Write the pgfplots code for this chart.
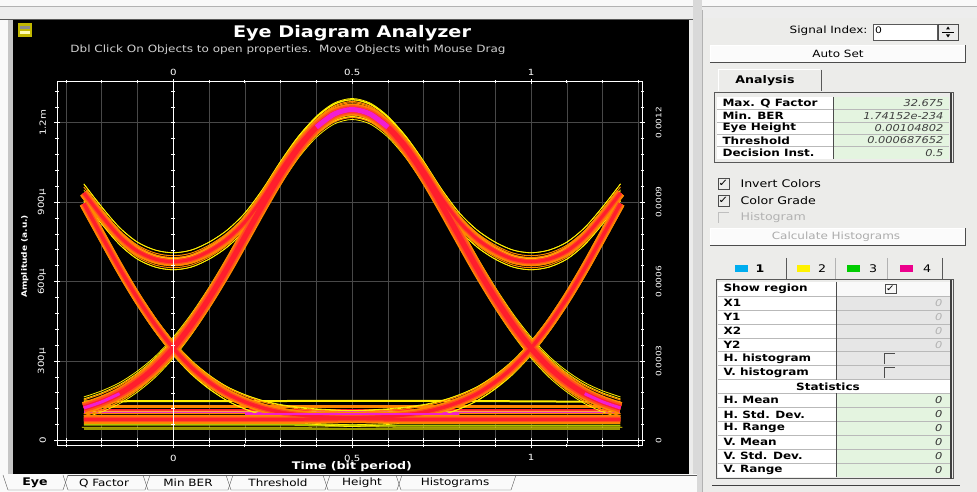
\documentclass[border=0pt]{standalone}
\usepackage{pgfplots}
\pgfplotsset{compat=1.18}
\usepackage{pgfplotstable}
\usepackage{fontspec}
\setmainfont{DejaVu Sans}[FakeStretch=1.2]
\definecolor{uigray}{RGB}{236,236,234}
\definecolor{gridc}{RGB}{72,72,72}
\definecolor{eyY}{RGB}{255,240,0}
\definecolor{eyO}{RGB}{255,135,0}
\definecolor{eyOR}{RGB}{255,80,30}
\definecolor{eyR}{RGB}{255,30,45}
\definecolor{eyM}{RGB}{240,30,210}
\definecolor{eyOl}{RGB}{150,150,0}
\definecolor{eyG}{RGB}{175,195,0}
\definecolor{cellgreen}{RGB}{228,244,224}
\definecolor{celldis}{RGB}{230,230,230}
\newcommand{\fs}[1]{\fontsize{#1}{#1}\selectfont}

\pgfplotstableread{
x H U111 U110 U011 F R FR
-0.25 123 935 935 123 895 80 895
-0.20 146 848 848 146 772 80 772
-0.15 177 770 770 177 650 80 650
-0.10 221 715 715 221 537 80 537
-0.05 277 685 685 278 436 80 436
0.00 349 675 675 350 349 80 349
0.05 436 685 685 437 277 80 277
0.10 537 715 715 538 221 80 221
0.15 649 760 760 650 177 80 177
0.20 769 825 825 770 146 80 146
0.25 890 915 915 891 123 80 123
0.30 1005 1020 1020 1006 107 80 107
0.35 1105 1115 1115 1107 97 80 97
0.40 1183 1188 1188 1185 90 81 91
0.45 1233 1237 1237 1235 86 82 88
0.50 1250 1253 1253 1253 83 83 86
0.55 1233 1237 1235 1237 82 86 88
0.60 1183 1188 1185 1188 81 90 91
0.65 1105 1115 1107 1115 80 97 97
0.70 1005 1020 1006 1020 80 107 107
0.75 890 915 891 915 80 123 123
0.80 769 825 770 825 80 146 146
0.85 649 760 650 760 80 177 177
0.90 537 715 538 715 80 221 221
0.95 436 685 437 685 80 277 277
1.00 349 675 350 675 80 349 349
1.05 277 685 278 685 80 436 436
1.10 221 715 221 715 80 537 537
1.15 177 770 177 770 80 650 650
1.20 146 848 146 848 80 772 772
1.25 123 935 123 935 80 895 895
}\eyedata

\pgfplotsset{
  yl/.style={eyY, line width=0.8pt, smooth, line join=round},
  ot/.style={eyO, line width=1pt, smooth, line join=round},
  ob/.style={eyO, line width=9pt, smooth, line join=round},
  orb/.style={eyOR, line width=5.5pt, smooth, line join=round},
  rc/.style={eyR, line width=3pt, smooth, line join=round},
}

\begin{document}
\begin{tikzpicture}[x=1pt,y=1pt]
\useasboundingbox (0,0) rectangle (977,492);
\fill[uigray] (0,0) rectangle (977,492);
\begin{scope}[shift={(0,492)},yscale=-1]
  % window frame strips
  \fill[white!95!gray] (0,0) rectangle (977,6);
  \draw[gray!60] (0,6.5) -- (977,6.5);
  \fill[gray!14] (0,7) rectangle (977,18.5);
  \draw[gray!70!black, line width=1.5pt] (0,19.5) -- (697,19.5);
  \fill[white!95!gray] (0,20) rectangle (8,474);
  \fill[gray!45] (8,20) rectangle (12.5,474);
  % black panel
  \fill[black] (12.5,20.5) rectangle (689,474);
  \draw[white!85!gray, line width=2pt] (691,20) -- (691,478);
  \fill[gray!30] (693,0) rectangle (702,492);
  \draw[gray!60] (702,10) -- (702,492);
  % icon
  \fill[yellow!45!olive] (18,23) rectangle (32,37);
  \fill[black!45] (20,26) rectangle (30,29);
  \fill[white!70!yellow] (20,31) rectangle (30,34);
  % title
  \node[white, font=\fs{16}\bfseries] at (352,33) {Eye Diagram Analyzer};
  \node[white!82!black, font=\fs{10}] at (288,50) {Dbl Click On Objects to open properties.\ \ Move Objects with Mouse Drag};
  % bottom tabs
  \fill[white!96!gray] (0,474) rectangle (697,492);
  \draw[gray!70!black] (3,475) -- (8,490) -- (63,490) -- (68,475);
  \foreach \l/\r in {63/150,143/233,226/330,323/402,396/516}{
    \draw[gray!70!black] (\l,475) -- (\l+5,490) -- (\r-5,490) -- (\r,475);}
  \draw[gray!70!black] (68,475) -- (697,475);
  \node[font=\fs{10.5}\bfseries] at (35,483) {Eye};
  \node[font=\fs{10}] at (104,483) {Q Factor};
  \node[font=\fs{10}] at (188,483) {Min BER};
  \node[font=\fs{10}] at (278,483) {Threshold};
  \node[font=\fs{10}] at (362,483) {Height};
  \node[font=\fs{10}] at (455,483) {Histograms};
  % ---------------- right panel ----------------
  \node[anchor=east, font=\fs{10}] at (871,31) {Signal Index:};
  \fill[white] (873,24) rectangle (937,40);
  \draw[gray!70!black] (873,24) rectangle (937,40);
  \node[anchor=west, font=\fs{9}, inner sep=0pt] at (875,30) {0};
  \fill[gray!15] (938,24) rectangle (958,40);
  \draw[gray!60!black] (938,24) rectangle (958,40);
  \draw[black] (942,32) -- (954,32);
  \fill[black] (948,26.5) -- (946,29.5) -- (950,29.5) -- cycle;
  \fill[black] (948,37.5) -- (946,34.5) -- (950,34.5) -- cycle;
  % Auto Set button
  \fill[white!97!gray] (710,45) rectangle (965,63);
  \draw[white] (710,63) -- (710,45) -- (965,45);
  \draw[gray!60!black, line width=1pt] (710,63) -- (965,63) -- (965,45);
  \node[font=\fs{10}] at (838,54) {Auto Set};
  % Analysis tab
  \draw[white, line width=1pt] (718,91) -- (718,70) -- (820,70);
  \draw[gray!70!black, line width=1pt] (821,70) -- (821,91);
  \node[font=\fs{10.5}\bfseries] at (765,81) {Analysis};
  % table 1
  \fill[white] (717,97) rectangle (833,159);
  \fill[cellgreen] (833,97) rectangle (949,159);
  \foreach \r in {109.4,121.8,134.2,146.6} \draw[gray!55] (717,\r) -- (949,\r);
  \draw[gray!60!black] (833,97) -- (833,159);
  \draw[gray!70!black, line width=1pt] (714,93) rectangle (953,163);
  \draw[gray!50!black, line width=2.5pt] (951,93) -- (951,163);
  \foreach \y/\t in {103.2/Max. Q Factor,115.6/Min. BER,128.0/Eye Height,140.4/Threshold,152.8/Decision Inst.}
    \node[anchor=west, font=\fs{10}\bfseries] at (719,\y) {\t};
  \foreach \y/\t in {103.2/32.675,115.6/1.74152e-234,128.0/0.00104802,140.4/0.000687652,152.8/0.5}
    \node[anchor=east, font=\fs{9.5}\itshape, black!75] at (947,\y) {\t};
  % checkboxes
  \draw[gray!60!black] (718,178) rectangle (729,189);
  \node[font=\fs{10}] at (723.5,183.5) {✓};
  \node[anchor=west, font=\fs{10.5}] at (737,183.5) {Invert Colors};
  \draw[gray!60!black] (718,195) rectangle (729,206);
  \node[font=\fs{10}] at (723.5,200.5) {✓};
  \node[anchor=west, font=\fs{10.5}] at (737,200.5) {Color Grade};
  \draw[gray!50] (718,223) -- (718,212) -- (729,212);
  \node[anchor=west, font=\fs{10.5}, gray!60] at (737,217.5) {Histogram};
  % Calculate Histograms button
  \fill[white!97!gray] (710,228) rectangle (965,246);
  \draw[white] (710,246) -- (710,228) -- (965,228);
  \draw[gray!60!black, line width=1pt] (710,246) -- (965,246) -- (965,228);
  \node[font=\fs{10}, gray!65] at (836,237) {Calculate Histograms};
  % colour tabs
  \fill[cyan] (735,265) rectangle (748,272);
  \node[font=\fs{10.5}\bfseries] at (760,268.5) {1};
  \draw[gray!70!black, line width=1pt] (786,258) -- (786,280);
  \fill[yellow] (797,265) rectangle (810,272);
  \node[font=\fs{10.5}] at (822,268.5) {2};
  \draw[gray!60] (835,258) -- (835,280);
  \fill[green!80!black] (847,265) rectangle (860,272);
  \node[font=\fs{10.5}] at (873,268.5) {3};
  \draw[gray!60] (887,258) -- (887,280);
  \fill[magenta] (900,265) rectangle (913,272);
  \node[font=\fs{10.5}] at (927,268.5) {4};
  \draw[gray!70!black, line width=1pt] (942,258) -- (942,280);
  % table 2
  \fill[white] (718,282) rectangle (950,477);
  \fill[white!95!gray] (836,282) rectangle (950,295.93);
  \fill[celldis] (836,295.93) rectangle (950,379.51);
  \fill[cellgreen] (836,393.44) rectangle (950,477);
  \foreach \r in {295.93,309.86,323.79,337.72,351.65,365.58,379.51,393.44,407.37,421.3,435.23,449.16,463.09}
    \draw[gray!55] (718,\r) -- (950,\r);
  \draw[gray!60!black] (836,282) -- (836,379.51) (836,393.44) -- (836,477);
  \draw[gray!70!black, line width=1pt] (716,280) rectangle (953,479);
  \draw[gray!50!black, line width=2pt] (951,280) -- (951,479);
  \draw[gray!50!black, line width=1pt] (712,486) -- (960,486);
  \foreach \y/\t in {289/Show region,302.9/X1,316.8/Y1,330.8/X2,344.7/Y2,358.6/H. histogram,372.5/V. histogram,400.4/H. Mean,414.3/H. Std. Dev.,428.3/H. Range,442.2/V. Mean,456.1/V. Std. Dev.,470.1/V. Range}
    \node[anchor=west, font=\fs{10}\bfseries] at (720,\y) {\t};
  \node[font=\fs{10}\bfseries] at (828,386.5) {Statistics};
  \foreach \y in {302.9,316.8,330.8,344.7}
    \node[anchor=east, font=\fs{9.5}\itshape, gray!60] at (946,\y) {0};
  \foreach \y in {400.4,414.3,428.3,442.2,456.1,470.1}
    \node[anchor=east, font=\fs{9.5}\itshape, black!80] at (946,\y) {0};
  \draw[gray!60!black] (885,284.5) rectangle (896,293.5);
  \node[font=\fs{9}] at (890.5,289) {✓};
  \draw[gray!60!black] (884,364) -- (884,353) -- (895,353);
  \draw[gray!60!black] (884,378) -- (884,367) -- (895,367);
\end{scope}

% ---------------- main plot ----------------
\begin{axis}[
  at={(57pt,46.3pt)}, anchor=south west,
  scale only axis, width=585.3pt, height=364pt,
  xmin=-0.325, xmax=1.311, ymin=-19.6, ymax=1355,
  axis line style={white, line width=0.9pt},
  xtick={0,0.5,1}, xticklabels={0,0.5,1},
  minor xtick={-0.3,-0.2,-0.1,0.1,0.2,0.3,0.4,0.6,0.7,0.8,0.9,1.1,1.2,1.3},
  ytick={0,300,600,900,1200}, yticklabels={0,300µ,600µ,900µ,1.2m},
  minor ytick={60,120,180,240,360,420,480,540,660,720,780,840,960,1020,1080,1140,1260,1320},
  xmajorgrids, xminorgrids, ymajorgrids, yminorgrids=false,
  major grid style={gridc, line width=0.6pt},
  minor grid style={gridc, line width=0.6pt},
  tick style={white, line width=0.7pt},
  major tick length=5pt, minor tick length=3pt, tick align=center,
  ticklabel style={white, font=\fs{8.5}},
  yticklabel style={rotate=90, anchor=south},
  yticklabel shift=5pt, xticklabel shift=3pt,
  xlabel={Time (bit period)},
  xlabel style={white, font=\fs{10.5}\bfseries, at={(axis description cs:0.504,-0.058)}, anchor=center},
  ylabel={Amplitude (a.u.)},
  ylabel style={white, font=\fs{7.5}\bfseries, at={(axis description cs:-0.055,0.52)}, anchor=center},
]
% baseline (000 patterns)
\addplot[eyOl, line width=2.5pt] coordinates {(-0.25,44) (1.25,44)};
\addplot[eyG, line width=2pt] coordinates {(-0.25,60) (0.3,60) (0.62,56) (1.25,56)};
\addplot[eyY, line width=2pt] coordinates {(-0.25,72) (1.25,72)};
\addplot[eyO, line width=3pt] coordinates {(-0.25,128) (1.25,128)};
\addplot[eyY, line width=2pt] coordinates {(-0.25,148) (0.7,150) (1.25,146)};
\addplot[eyM, line width=3pt] coordinates {(-0.25,104) (1.25,104)};
\addplot[eyR, line width=2pt] coordinates {(-0.25,115) (1.25,115)};
% yellow outer traces
\addplot[yl, yshift=9pt] table[x=x,y=U111]{\eyedata};
\addplot[yl, yshift=-8pt] table[x=x,y=U111]{\eyedata};
\addplot[yl, yshift=9pt] table[x=x,y=U110]{\eyedata};
\addplot[yl, yshift=-8pt] table[x=x,y=U110]{\eyedata};
\addplot[yl, yshift=9pt] table[x=x,y=U011]{\eyedata};
\addplot[yl, yshift=-8pt] table[x=x,y=U011]{\eyedata};
\addplot[yl, yshift=11pt] table[x=x,y=H]{\eyedata};
\addplot[yl, yshift=-10pt] table[x=x,y=H]{\eyedata};
\addplot[yl, yshift=8pt, xshift=-2pt] table[x=x,y=F]{\eyedata};
\addplot[yl, yshift=-8pt, xshift=2pt] table[x=x,y=F]{\eyedata};
\addplot[yl, yshift=8pt, xshift=2pt] table[x=x,y=R]{\eyedata};
\addplot[yl, yshift=-8pt, xshift=-2pt] table[x=x,y=R]{\eyedata};
\addplot[yl, yshift=7pt] table[x=x,y=FR]{\eyedata};
\addplot[yl, yshift=-7pt] table[x=x,y=FR]{\eyedata};
% orange thin traces
\addplot[ot, yshift=6pt] table[x=x,y=U111]{\eyedata};
\addplot[ot, yshift=-6pt] table[x=x,y=U110]{\eyedata};
\addplot[ot, yshift=-6pt] table[x=x,y=U011]{\eyedata};
\addplot[ot, yshift=8pt] table[x=x,y=H]{\eyedata};
\addplot[ot, yshift=-8pt] table[x=x,y=H]{\eyedata};
\addplot[ot, yshift=6pt] table[x=x,y=F]{\eyedata};
\addplot[ot, yshift=6pt] table[x=x,y=R]{\eyedata};
% orange bands
\addplot[ob] table[x=x,y=U111]{\eyedata};
\addplot[ob] table[x=x,y=U110]{\eyedata};
\addplot[ob] table[x=x,y=U011]{\eyedata};
\addplot[ob, line width=12pt] table[x=x,y=H]{\eyedata};
\addplot[ob] table[x=x,y=F]{\eyedata};
\addplot[ob] table[x=x,y=R]{\eyedata};
\addplot[ob] table[x=x,y=FR]{\eyedata};
% thin yellow inner traces
\addplot[yl, line width=0.6pt, yshift=3pt] table[x=x,y=U111]{\eyedata};
\addplot[yl, line width=0.6pt, yshift=-2pt] table[x=x,y=U110]{\eyedata};
\addplot[yl, line width=0.6pt, yshift=2pt] table[x=x,y=U011]{\eyedata};
% orange-red cores
\addplot[orb, line width=3pt] table[x=x,y=U111]{\eyedata};
\addplot[orb] table[x=x,y=U110]{\eyedata};
\addplot[orb] table[x=x,y=U011]{\eyedata};
\addplot[orb, line width=9pt] table[x=x,y=H]{\eyedata};
\addplot[orb] table[x=x,y=F]{\eyedata};
\addplot[orb] table[x=x,y=R]{\eyedata};
\addplot[orb] table[x=x,y=FR]{\eyedata};
% red cores
\addplot[rc] table[x=x,y=U110]{\eyedata};
\addplot[rc] table[x=x,y=U011]{\eyedata};
\addplot[rc, line width=5.5pt] table[x=x,y=H]{\eyedata};
\addplot[rc] table[x=x,y=F]{\eyedata};
\addplot[rc] table[x=x,y=R]{\eyedata};
\addplot[rc] table[x=x,y=FR]{\eyedata};
% magenta highlights
\addplot[eyM, line width=5pt, smooth, restrict x to domain=0.38:0.62] table[x=x,y=H]{\eyedata};
\addplot[eyM, line width=3pt, smooth, restrict x to domain=-0.26:-0.14] table[x=x,y=H]{\eyedata};
\addplot[eyM, line width=3pt, smooth, restrict x to domain=1.14:1.26] table[x=x,y=H]{\eyedata};
\addplot[eyM, line width=2pt] coordinates {(0.2,100) (0.8,100)};
% axis lines through zero
\draw[white, line width=1pt] (axis cs:0,-19.6) -- (axis cs:0,1355);
\draw[white, line width=1pt] (axis cs:-0.325,0) -- (axis cs:1.311,0);
\pgfplotsinvokeforeach{60,120,...,1320}{\draw[white, line width=0.6pt] (axis cs:-0.006,#1) -- (axis cs:0.006,#1);}
\pgfplotsinvokeforeach{-0.3,-0.2,-0.1,0.1,0.2,0.3,0.4,0.5,0.6,0.7,0.8,0.9,1,1.1,1.2,1.3}{\draw[white, line width=0.6pt] (axis cs:#1,-11) -- (axis cs:#1,11);}
\end{axis}

% top and right labels
\begin{axis}[
  at={(57pt,46.3pt)}, anchor=south west,
  scale only axis, width=585.3pt, height=364pt,
  xmin=-0.325, xmax=1.311, ymin=-19.6, ymax=1355,
  axis line style={draw=none}, tick style={draw=none},
  xtick={0,0.5,1}, xticklabels={0,0.5,1}, xticklabel pos=upper,
  ytick={0,300,600,900,1200}, yticklabels={0,0.0003,0.0006,0.0009,0.0012}, yticklabel pos=right,
  ticklabel style={white},
  xticklabel style={font=\fs{8.5}},
  yticklabel style={rotate=90, anchor=north, font=\fs{7.5}},
  yticklabel shift=10pt, xticklabel shift=3pt,
]
\addplot[draw=none] coordinates {(0,0)};
\end{axis}
\end{tikzpicture}
\end{document}
